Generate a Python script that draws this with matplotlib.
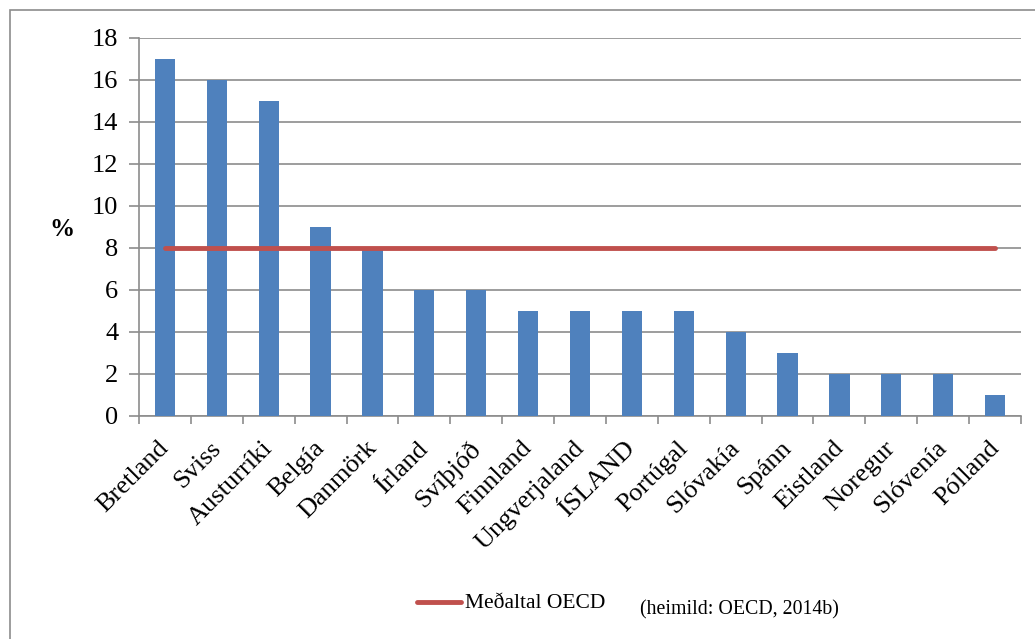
import matplotlib
matplotlib.use("Agg")
import matplotlib.pyplot as plt
from matplotlib.lines import Line2D
from matplotlib.patches import Rectangle

countries = ["Bretland", "Sviss", "Austurríki", "Belgía", "Danmörk", "Írland", "Svíþjóð",
             "Finnland", "Ungverjaland", "ÍSLAND", "Portúgal", "Slóvakía", "Spánn",
             "Eistland", "Noregur", "Slóvenía", "Pólland"]
values = [17, 16, 15, 9, 8, 6, 6, 5, 5, 5, 5, 4, 3, 2, 2, 2, 1]
oecd_avg = [8] * len(countries)
yticks = [0, 2, 4, 6, 8, 10, 12, 14, 16, 18]

W, H = 1035, 639
fig = plt.figure(figsize=(W / 100, H / 100), dpi=100)
serif = "Liberation Serif"

# outer frame
fig.patches.append(Rectangle((10 / W, -0.1), 1.2, (H - 9.5) / H + 0.1, transform=fig.transFigure,
                             fill=False, edgecolor="#8c8c8c", linewidth=1.2))

ax = fig.add_axes([139 / W, 1 - 416 / H, (1021 - 139) / W, (416 - 38) / H])
x = list(range(len(countries)))
ax.bar(x, values, width=0.39, color="#4F81BD", zorder=3)
ax.plot(x, oecd_avg, color="#C0504D", linewidth=3.5, solid_capstyle="round", zorder=4)

ax.set_xlim(-0.5, len(countries) - 0.5)
ax.set_ylim(0, 18)
ax.set_yticks(yticks)
ax.set_yticklabels([str(t) for t in yticks], fontsize=19, family=serif)
ax.yaxis.grid(True, color="#8c8c8c", linewidth=1.2, zorder=0)
ax.set_axisbelow(True)

ax.set_xticks([i - 0.5 for i in range(len(countries) + 1)], minor=False)
ax.set_xticklabels([])
ax.tick_params(axis="x", length=6, color="#8c8c8c", width=1.2)
ax.tick_params(axis="y", length=7, color="#8c8c8c", width=1.2, pad=8)
for i, c in enumerate(countries):
    ax.text(i - 0.14, -1.0, c, rotation=45, ha="right", va="top", rotation_mode="anchor",
            fontsize=19, family=serif)

for s in ["top", "right"]:
    ax.spines[s].set_visible(False)
for s in ["left", "bottom"]:
    ax.spines[s].set_color("#8c8c8c")
    ax.spines[s].set_linewidth(1.2)

fig.text(62 / W, 1 - 230 / H, "%", fontsize=18, fontweight="bold", family=serif, ha="center", va="center")

# legend
fig.add_artist(Line2D([417 / W, 461 / W], [1 - 602 / H, 1 - 602 / H], color="#C0504D",
                      linewidth=3.5, solid_capstyle="round", transform=fig.transFigure))
fig.text(465 / W, 1 - 604 / H, "Meðaltal OECD", fontsize=15.5, family=serif, va="center", ha="left")
fig.text(640 / W, 1 - 610 / H, "(heimild: OECD, 2014b)", fontsize=14.3, family=serif, va="center", ha="left")

fig.savefig("out.png", dpi=100)
